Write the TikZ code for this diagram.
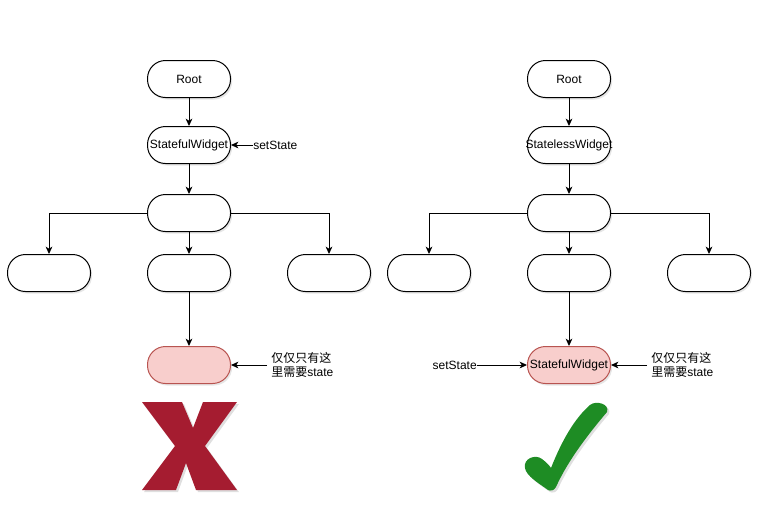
\documentclass[tikz,border=0pt]{standalone}
\usepackage{fontspec}
\setmainfont{Liberation Sans}
\newfontfamily\cjk{Noto Sans CJK SC}
\usetikzlibrary{arrows.meta, positioning, shadows}
\definecolor{pinkfill}{HTML}{F8CECC}
\definecolor{pinkline}{HTML}{B85450}
\definecolor{crossred}{HTML}{A51C30}
\definecolor{tickgreen}{HTML}{1E8C24}

\begin{document}
\begin{tikzpicture}[
  x=0.75pt, y=-0.75pt,
  font=\fontsize{9}{11}\selectfont,
  pill/.style={draw, fill=white, rounded corners=13.5pt, line width=0.75pt,
               minimum width=62.25pt, minimum height=27.75pt, inner sep=1pt,
               drop shadow={shadow xshift=1.2pt, shadow yshift=-1.5pt, opacity=.2}},
  hot/.style={pill, draw=pinkline, fill=pinkfill},
  note/.style={align=left, inner sep=3pt},
  ar/.style={-{Stealth[length=5.5pt, width=5pt, inset=1.5pt]}, line width=0.75pt},
  symbolmark/.style={drop shadow={shadow xshift=1.5pt, shadow yshift=-1.5pt, opacity=.25}},
  node distance=21pt]
\useasboundingbox (0,0) rectangle (763,519);

% left tree
\node[pill] (rootL) at (189,79) {Root};
\node[pill, below=of rootL] (swL) {StatefulWidget};
\node[pill, below=22.5pt of swL] (midL) {};
\node[pill, below=16.5pt of midL] (cmL) {};
\node[pill, left=42pt of cmL] (clL) {};
\node[pill, right=42pt of cmL] (crL) {};
\node[hot, below=40.5pt of cmL] (hotL) {};
\node[right=16.5pt of swL, inner sep=0pt] (setL) {setState};
\node[note, right=27pt of hotL] (noteL) {{\cjk 仅仅只有这}\\{\cjk 里需要}state};

% right tree
\node[pill] (rootR) at (569,79) {Root};
\node[pill, below=of rootR] (slR) {\makebox[60pt]{StatelessWidget}};
\node[pill, below=22.5pt of slR] (midR) {};
\node[pill, below=16.5pt of midR] (cmR) {};
\node[pill, left=42pt of cmR] (clR) {};
\node[pill, right=42pt of cmR] (crR) {};
\node[hot, below=40.5pt of cmR] (hotR) {StatefulWidget};
\node[left=37.5pt of hotR, inner sep=0pt] (setR) {setState};
\node[note, right=27pt of hotR] (noteR) {{\cjk 仅仅只有这}\\{\cjk 里需要}state};

\draw[ar] (rootL) -- (swL);
\draw[ar] (swL) -- (midL);
\draw[ar] (midL) -| (clL);
\draw[ar] (midL) -- (cmL);
\draw[ar] (midL) -| (crL);
\draw[ar] (cmL) -- (hotL);
\draw[ar] (setL) -- (swL);
\draw[ar] (noteL) -- (hotL);

\draw[ar] (rootR) -- (slR);
\draw[ar] (slR) -- (midR);
\draw[ar] (midR) -| (clR);
\draw[ar] (midR) -- (cmR);
\draw[ar] (midR) -| (crR);
\draw[ar] (cmR) -- (hotR);
\draw[ar] (setR) -- (hotR);
\draw[ar] (noteR) -- (hotR);

% wrong / right marks
\fill[crossred, symbolmark] (142,402) -- (182,402) -- (193,428) -- (203,402) -- (237,402)
  -- (205,446) -- (237,490) -- (196,490) -- (186,463) -- (176,490) -- (142,490)
  -- (175,446) -- cycle;
\fill[tickgreen, symbolmark] (548,490) .. controls (540,484) and (526,476) .. (525,468)
  .. controls (523,458) and (536,454) .. (542,459)
  .. controls (546,462) and (549,465) .. (551,468)
  .. controls (562,440) and (575,418) .. (590,405)
  .. controls (596,400) and (610,404) .. (607,412)
  .. controls (590,432) and (568,460) .. (556,487)
  .. controls (554,491) and (550,491) .. (548,490) -- cycle;
\end{tikzpicture}
\end{document}
